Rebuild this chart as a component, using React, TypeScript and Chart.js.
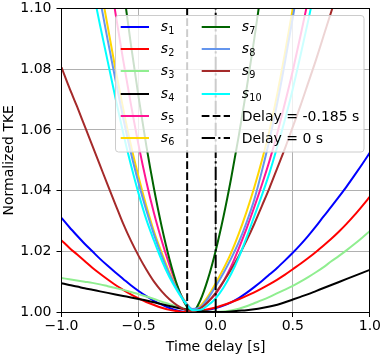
import React, { useEffect, useRef } from 'react';
import { Chart, registerables } from 'chart.js';

Chart.register(...registerables);

const FONT = "'DejaVu Sans', sans-serif";

// x sample positions (time delay, s)
const timeDelays = [
  -1, -0.95, -0.9, -0.85, -0.8, -0.75, -0.7, -0.65, -0.6, -0.55, -0.5,
  -0.45, -0.4, -0.35, -0.3, -0.25, -0.2, -0.15, -0.1, -0.05, 0,
  0.05, 0.1, 0.15, 0.2, 0.25, 0.3, 0.35, 0.4, 0.45, 0.5,
  0.55, 0.6, 0.65, 0.7, 0.75, 0.8, 0.85, 0.9, 0.95, 1,
];

const s1 = [1.0310, 1.0280, 1.0252, 1.0225, 1.0200, 1.0175, 1.0152, 1.0130, 1.0109, 1.0088, 1.0069, 1.0052, 1.0037, 1.0024, 1.0013, 1.0005, 1.0001, 1.0001, 1.0003, 1.0007, 1.0013, 1.0021, 1.0032, 1.0046, 1.0063, 1.0082, 1.0102, 1.0124, 1.0146, 1.0170, 1.0195, 1.0222, 1.0251, 1.0282, 1.0315, 1.0347, 1.0380, 1.0414, 1.0450, 1.0487, 1.0525];
const s2 = [1.0236, 1.0212, 1.0190, 1.0168, 1.0146, 1.0126, 1.0107, 1.0089, 1.0073, 1.0058, 1.0045, 1.0033, 1.0023, 1.0014, 1.0007, 1.0003, 1.0000, 1.0001, 1.0004, 1.0009, 1.0015, 1.0023, 1.0032, 1.0042, 1.0053, 1.0065, 1.0078, 1.0092, 1.0107, 1.0123, 1.0141, 1.0159, 1.0178, 1.0198, 1.0219, 1.0241, 1.0265, 1.0291, 1.0319, 1.0349, 1.0380];
const s3 = [1.0112, 1.0108, 1.0104, 1.0100, 1.0096, 1.0091, 1.0085, 1.0079, 1.0073, 1.0066, 1.0059, 1.0051, 1.0043, 1.0034, 1.0026, 1.0018, 1.0011, 1.0006, 1.0003, 1.0001, 1.0001, 1.0002, 1.0005, 1.0011, 1.0019, 1.0029, 1.0039, 1.0050, 1.0062, 1.0074, 1.0086, 1.0100, 1.0115, 1.0131, 1.0148, 1.0167, 1.0185, 1.0204, 1.0224, 1.0245, 1.0267];
const s4 = [1.0095, 1.0089, 1.0084, 1.0078, 1.0073, 1.0068, 1.0063, 1.0058, 1.0053, 1.0048, 1.0043, 1.0038, 1.0032, 1.0026, 1.0020, 1.0014, 1.0009, 1.0005, 1.0003, 1.0001, 1.0000, 1.0000, 1.0002, 1.0004, 1.0006, 1.0009, 1.0013, 1.0018, 1.0024, 1.0032, 1.0041, 1.0050, 1.0059, 1.0069, 1.0079, 1.0089, 1.0099, 1.0109, 1.0119, 1.0129, 1.0139];
const s5 = [null, null, null, null, null, null, 1.1150, 1.0985, 1.0830, 1.0685, 1.0550, 1.0430, 1.0325, 1.0235, 1.0155, 1.0085, 1.0030, 1.0004, 1.0015, 1.0035, 1.0060, 1.0100, 1.0150, 1.0210, 1.0275, 1.0345, 1.0420, 1.0500, 1.0590, 1.0690, 1.0795, 1.0910, 1.1030, null, null, null, null, null, null, null, null];
const s6 = [null, null, null, null, null, 1.1080, 1.0940, 1.0800, 1.0670, 1.0550, 1.0445, 1.0350, 1.0265, 1.0195, 1.0130, 1.0078, 1.0036, 1.0008, 1.0020, 1.0052, 1.0095, 1.0142, 1.0195, 1.0258, 1.0330, 1.0410, 1.0500, 1.0600, 1.0720, 1.0855, 1.1000, 1.1150, null, null, null, null, null, null, null, null, null];
const s7 = [null, null, null, null, null, null, null, null, 1.1070, 1.0882, 1.0708, 1.0548, 1.0406, 1.0281, 1.0175, 1.0089, 1.0029, 1.0000, 1.0038, 1.0109, 1.0202, 1.0313, 1.0440, 1.0581, 1.0734, 1.0899, 1.1075, null, null, null, null, null, null, null, null, null, null, null, null, null, null];
const s8 = [null, null, null, null, null, 1.1030, 1.0895, 1.0765, 1.0640, 1.0525, 1.0425, 1.0335, 1.0255, 1.0185, 1.0125, 1.0075, 1.0035, 1.0010, 1.0015, 1.0045, 1.0085, 1.0128, 1.0176, 1.0230, 1.0295, 1.0370, 1.0465, 1.0570, 1.0690, 1.0825, 1.0970, 1.1120, null, null, null, null, null, null, null, null, null];
const s9 = [1.0806, 1.0740, 1.0678, 1.0613, 1.0548, 1.0483, 1.0418, 1.0354, 1.0291, 1.0235, 1.0185, 1.0140, 1.0100, 1.0068, 1.0042, 1.0022, 1.0008, 1.0002, 1.0012, 1.0033, 1.0063, 1.0100, 1.0140, 1.0185, 1.0235, 1.0290, 1.0350, 1.0410, 1.0475, 1.0540, 1.0610, 1.0680, 1.0755, 1.0830, 1.0910, 1.0990, 1.1070, null, null, null, null];
const s10 = [null, null, null, null, 1.1070, 1.0945, 1.0825, 1.0705, 1.0590, 1.0485, 1.0390, 1.0305, 1.0235, 1.0170, 1.0115, 1.0070, 1.0032, 1.0006, 1.0007, 1.0022, 1.0045, 1.0080, 1.0125, 1.0180, 1.0245, 1.0315, 1.0385, 1.0460, 1.0545, 1.0635, 1.0735, 1.0845, 1.0960, 1.1080, null, null, null, null, null, null, null];

const seriesValues = [s1, s2, s3, s4, s5, s6, s7, s8, s9, s10];
const seriesSubscripts = ['1', '2', '3', '4', '5', '6', '7', '8', '9', '10'];
const seriesColors = ['#0000ff', '#ff0000', '#90ee90', '#000000', '#ff1493', '#ffd700', '#006400', '#6495ed', '#a52a2a', '#00ffff'];

const delayValues = [-0.185, 0];
const delayLabels = ['Delay = -0.185 s', 'Delay = 0 s'];
const delayDashes = [[7.7, 3.3], [13.3, 3.3, 2.1, 3.3]];

const xTickValues = [-1, -0.5, 0, 0.5, 1];
const xTickLabels = ['\u22121.0', '\u22120.5', '0.0', '0.5', '1.0'];
const yTickValues = [1.0, 1.02, 1.04, 1.06, 1.08, 1.1];
const yTickLabels = ['1.00', '1.02', '1.04', '1.06', '1.08', '1.10'];
const xRange = [-1, 1];
const yRange = [1.0, 1.1];
const xTitle = 'Time delay [s]';
const yTitle = 'Normalized TKE';

const framePlugin = {
  id: 'mplFrameLegend',
  afterDraw(chart: any) {
    const { ctx, chartArea: ca } = chart;
    ctx.save();
    // axes frame (spines)
    ctx.setLineDash([]);
    ctx.strokeStyle = '#000';
    ctx.lineWidth = 1;
    const l = Math.floor(ca.left) + 0.5;
    const t = Math.floor(ca.top) + 0.5;
    const r = Math.floor(ca.right) + 0.5;
    const b = Math.floor(ca.bottom) + 0.5;
    ctx.strokeRect(l, t, r - l, b - t);

    // legend box
    const w = 248.5;
    const h = 136.5;
    const x0 = Math.floor(ca.right - 6 - w) + 0.5;
    const y0 = Math.floor(ca.top + 7) + 0.5;
    ctx.beginPath();
    if ((ctx as any).roundRect) (ctx as any).roundRect(x0, y0, w, h, 3);
    else ctx.rect(x0, y0, w, h);
    ctx.fillStyle = 'rgba(255,255,255,0.8)';
    ctx.fill();
    ctx.strokeStyle = '#cccccc';
    ctx.lineWidth = 1;
    ctx.stroke();

    const entries: any[] = [];
    seriesColors.forEach((c, i) => entries.push({ color: c, dash: [], sub: seriesSubscripts[i] }));
    delayLabels.forEach((lab, i) => entries.push({ color: '#000', dash: delayDashes[i], text: lab }));

    entries.forEach((e, i) => {
      const col = i < 6 ? 0 : 1;
      const row = i % 6;
      const ry = Math.round(y0 + 11.2 + row * 22.3);
      const hx = x0 + 5.2 + col * 81;
      const tx = x0 + 45.2 + col * 81;
      ctx.beginPath();
      ctx.setLineDash(e.dash);
      ctx.strokeStyle = e.color;
      ctx.lineWidth = 2;
      ctx.moveTo(hx, ry);
      ctx.lineTo(hx + 28.3, ry);
      ctx.stroke();
      ctx.setLineDash([]);
      ctx.fillStyle = '#000';
      ctx.textAlign = 'left';
      ctx.textBaseline = 'alphabetic';
      if (e.sub) {
        ctx.font = `italic 14px ${FONT}`;
        ctx.fillText('s', tx, ry + 4);
        const sw = ctx.measureText('s').width;
        ctx.font = `9.7px ${FONT}`;
        ctx.fillText(e.sub, tx + sw + 0.3, ry + 7);
      } else {
        ctx.font = `14px ${FONT}`;
        ctx.fillText(e.text, tx, ry + 5);
      }
    });
    ctx.restore();
  },
};

export default function App() {
  const ref = useRef<HTMLCanvasElement>(null);
  useEffect(() => {
    const canvas = ref.current;
    if (!canvas) return;

    const curveSets = seriesValues.map((vals, i) => ({
      label: 's' + seriesSubscripts[i],
      data: timeDelays.map((x, j) => ({ x, y: vals[j] })),
      borderColor: seriesColors[i],
      backgroundColor: seriesColors[i],
      borderWidth: 2,
      pointRadius: 0,
      fill: false,
      spanGaps: false,
      cubicInterpolationMode: 'monotone' as const,
      order: 10 - i,
    }));
    const delaySets = delayValues.map((d, i) => ({
      label: delayLabels[i],
      data: [{ x: d, y: yRange[0] }, { x: d, y: yRange[1] }],
      borderColor: '#000',
      backgroundColor: '#000',
      borderWidth: 2,
      borderDash: delayDashes[i],
      pointRadius: 0,
      fill: false,
      tension: 0,
      order: 0,
    }));

    const tickFont = { family: FONT, size: 14 };
    const chart = new Chart(canvas, {
      type: 'line',
      data: { datasets: [...curveSets, ...delaySets] as any },
      options: {
        animation: false,
        responsive: false,
        devicePixelRatio: 1,
        layout: { padding: { left: 0, right: 11, top: 4.5, bottom: 0 } },
        plugins: { legend: { display: false }, tooltip: { enabled: false } },
        scales: {
          x: {
            type: 'linear',
            min: xRange[0],
            max: xRange[1],
            afterFit: (s: any) => { s.height = 44; },
            afterBuildTicks: (s: any) => { s.ticks = xTickValues.map((v) => ({ value: v })); },
            ticks: {
              callback: (v: any) => xTickLabels[xTickValues.indexOf(Number(v))] ?? '',
              color: '#000',
              font: tickFont,
              padding: 1,
              maxRotation: 0,
              autoSkip: false,
            },
            grid: { color: '#b0b0b0', lineWidth: 1, drawTicks: true, tickLength: 5, tickColor: '#000', tickWidth: 1 },
            border: { display: false },
            title: { display: true, text: xTitle, color: '#000', font: { family: FONT, size: 14 }, padding: { top: 0, bottom: 0 } },
          },
          y: {
            type: 'linear',
            min: yRange[0],
            max: yRange[1],
            afterFit: (s: any) => { s.width = 61.5; },
            afterBuildTicks: (s: any) => { s.ticks = yTickValues.map((v) => ({ value: v })); },
            ticks: {
              callback: (v: any) => {
                const k = yTickValues.findIndex((t) => Math.abs(t - Number(v)) < 1e-6);
                return k >= 0 ? yTickLabels[k] : '';
              },
              color: '#000',
              font: { family: FONT, size: 14, lineHeight: 0.5 },
              padding: 5,
              autoSkip: false,
            },
            grid: { color: '#b0b0b0', lineWidth: 1, drawTicks: true, tickLength: 5, tickColor: '#000', tickWidth: 1 },
            border: { display: false },
            title: { display: true, text: yTitle, color: '#000', font: { family: FONT, size: 14 }, padding: { top: 1, bottom: 0 } },
          },
        },
      } as any,
      plugins: [framePlugin],
    });
    return () => chart.destroy();
  }, []);

  return (
    <div style={{ position: 'absolute', left: 0, top: 0, width: 382, height: 356 }}>
      <canvas ref={ref} width={382} height={356} style={{ display: 'block', width: 382, height: 356 }} />
    </div>
  );
}
